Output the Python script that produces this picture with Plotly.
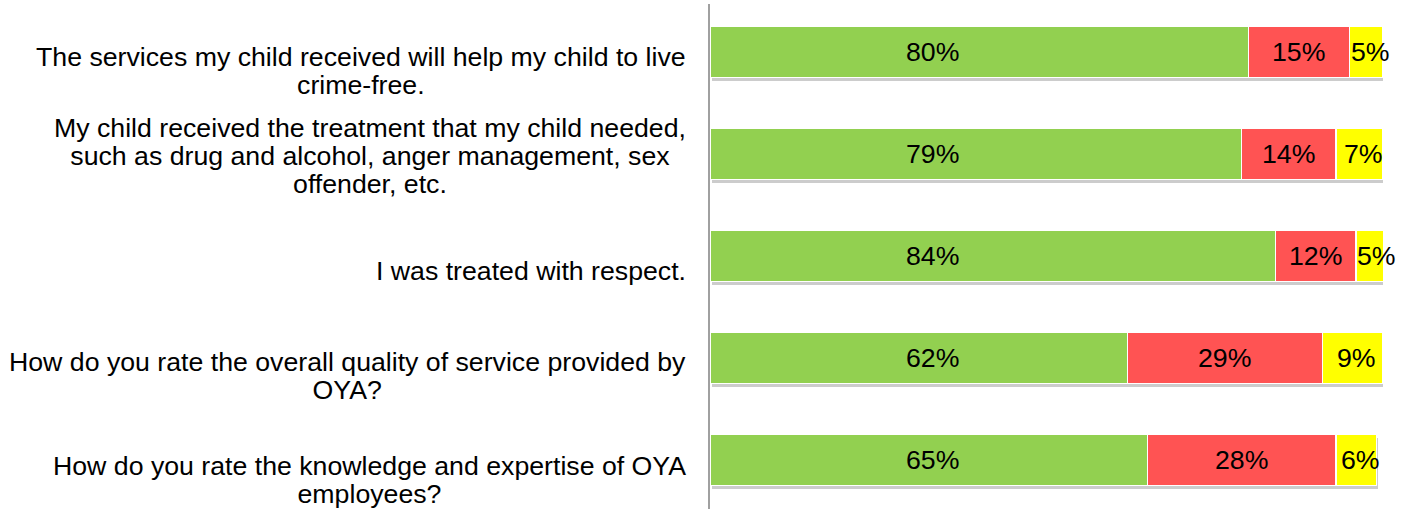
import plotly.graph_objects as go

questions = [
    "The services my child received will help my child to live<br>crime-free.",
    "My child received the treatment that my child needed,<br>such as drug and alcohol, anger management, sex<br>offender, etc.",
    "I was treated with respect.",
    "How do you rate the overall quality of service provided by<br>OYA?",
    "How do you rate the knowledge and expertise of OYA<br>employees?",
]
positive = [80, 79, 84, 62, 65]
negative = [15, 14, 12, 29, 28]
neutral = [5, 7, 5, 9, 6]

# vertical offset (px) of each wrapped question label relative to its bar
label_offsets = [-19, -2, -15, -18, -20]

colors = ["#92D050", "#FF5353", "#FFFF00"]
FONT = "Liberation Sans, Arial, sans-serif"
TXT = 26.7
idx = list(range(len(questions)))
totals = [a + b + c for a, b, c in zip(positive, negative, neutral)]

YR = [4.48, -0.47]
XR = [0, 100]
fig = go.Figure()

# soft drop shadow under each bar (drawn on the base axes, shifted a few px)
fig.add_trace(go.Bar(
    y=idx, x=totals, orientation="h", width=0.5,
    marker=dict(color="rgba(0,0,0,0.2)", line=dict(width=0)),
    hoverinfo="skip", showlegend=False, xaxis="x", yaxis="y",
))

for vals, col in zip([positive, negative, neutral], colors):
    fig.add_trace(go.Bar(
        y=idx, x=vals, orientation="h",
        marker=dict(color=col, line=dict(color="white", width=1.5)),
        width=0.5,
        hoverinfo="skip", showlegend=False, xaxis="x2", yaxis="y2",
    ))

lab_font = dict(family=FONT, size=TXT, color="black")
for i in idx:
    p, n, u = positive[i], negative[i], neutral[i]
    # green-segment labels sit at a common position, as in the source chart
    fig.add_annotation(x=33, y=i, xref="x2", yref="y2", text=f"{p}%",
                       showarrow=False, xanchor="center", yanchor="middle", font=lab_font)
    fig.add_annotation(x=p + n / 2, y=i, xref="x2", yref="y2", text=f"{n}%",
                       showarrow=False, xanchor="center", yanchor="middle", font=lab_font)
    fig.add_annotation(x=p + n + u / 2, y=i, xref="x2", yref="y2", text=f"{u}%",
                       showarrow=False, xanchor="center", yanchor="middle", font=lab_font,
                       xshift=4)

for i, (q, off) in enumerate(zip(questions, label_offsets)):
    styled = "<br>".join(
        f'<span style="font-size:{TXT}px">{line}</span>' for line in q.split("<br>")
    )
    fig.add_annotation(
        x=0, y=i, xref="x2", yref="y2", text=styled, showarrow=False,
        xanchor="right", yanchor="middle", align="center",
        xshift=-22, yshift=off,
        font=dict(family=FONT, size=21.5, color="black"),
    )

fig.update_layout(
    barmode="stack",
    width=1403, height=509,
    margin=dict(l=710, r=20, t=4, b=0),
    paper_bgcolor="white", plot_bgcolor="white",
    xaxis=dict(range=[XR[0] - 0.3, XR[1] - 0.3], visible=False, fixedrange=True),
    yaxis=dict(range=[YR[0] - 0.03, YR[1] - 0.03], showticklabels=False, ticks="",
               showgrid=False, zeroline=False, fixedrange=True,
               showline=True, linecolor="#A0A0A0", linewidth=2),
    xaxis2=dict(range=XR, visible=False, overlaying="x", fixedrange=True),
    yaxis2=dict(range=YR, visible=False, overlaying="y", fixedrange=True),
)

fig.write_html("out.html", config={"displayModeBar": False},
               post_script="document.body.style.margin='0';")
